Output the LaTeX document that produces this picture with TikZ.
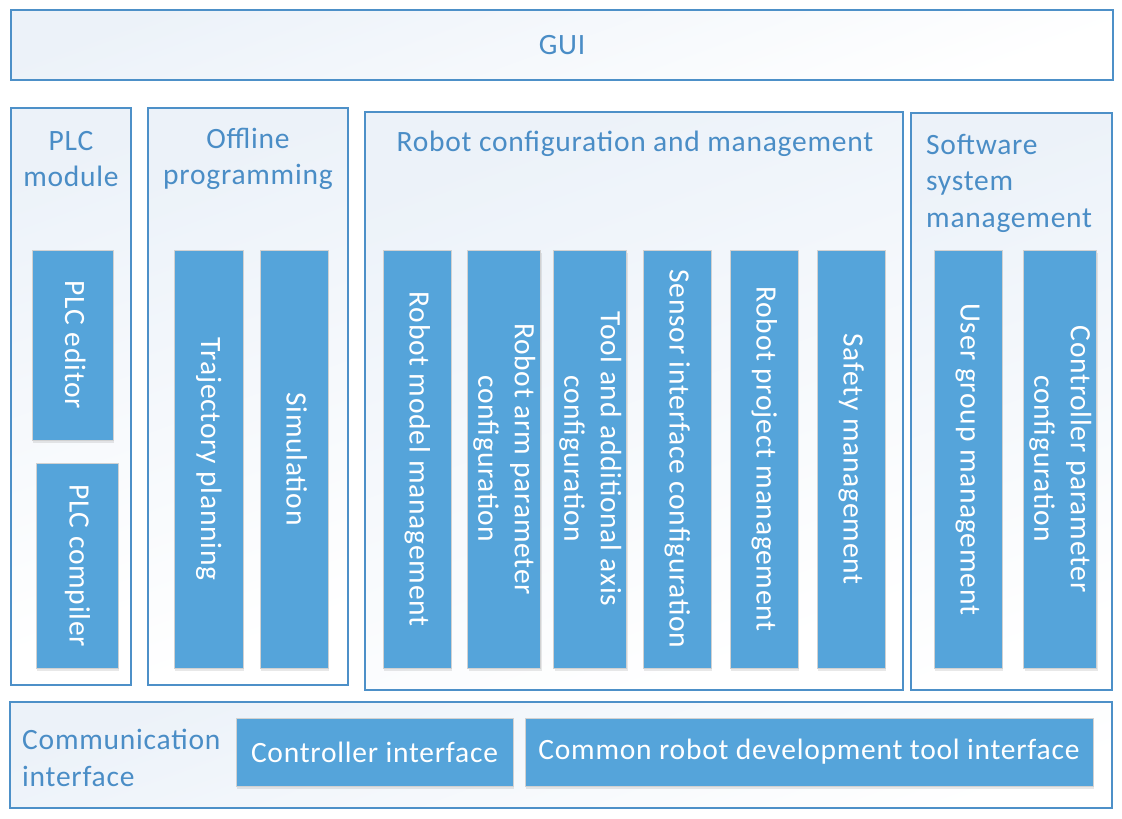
\documentclass[tikz,border=0pt]{standalone}
\usepackage{fontspec}
\setmainfont{Carlito}[LetterSpace=2.6]
\usepackage{graphicx}
\usetikzlibrary{shadows}

\definecolor{lineblue}{RGB}{77,144,200}
\definecolor{boxblue}{RGB}{85,164,218}
\definecolor{titleblue}{RGB}{74,141,198}
\definecolor{paleblue}{RGB}{236,242,249}

\newcommand{\vtext}[1]{\rotatebox[origin=c]{-90}{\begin{tabular}{@{}c@{}}#1\end{tabular}}}

\begin{document}
\begin{tikzpicture}[
		  x=1pt, y=-1pt,
		  font=\fontsize{29.5}{36.5}\selectfont,
		  outerbox/.style={
		    draw=lineblue,
		    line width=1.6pt,
		    top color=paleblue,
		    bottom color=white,
		    shading angle=20
		  },
		  innerbox/.style={
		    fill=boxblue,
		    draw=black!18,
		    line width=0.8pt,
		    text=white,
		    align=center,
		    inner sep=0pt,
		    drop shadow={shadow xshift=1pt, shadow yshift=-3pt, opacity=0.18}
		  },
		  vbox/.style={innerbox, minimum width=68pt, minimum height=418pt},
		  title/.style={text=titleblue, align=center, inner sep=0pt},
		  lefttitle/.style={title, align=left, anchor=west}
		]
		\useasboundingbox (0,0) rectangle (1122,819);

		% --- top layer ---
		\node[outerbox, minimum width=1102pt, minimum height=70pt] (gui) at (562,45) {};
		\node[title] (guititle) at (gui) {GUI};

		% --- PLC module ---
		\node[outerbox, minimum width=120pt, minimum height=577pt] (plc) at (71,396.5) {};
		\node[title] (plctitle) at (71,159) {PLC\\module};
		\node[innerbox, minimum width=81pt, minimum height=190pt] (plcedit) at (72.5,345) {\vtext{PLC editor}};
		\node[innerbox, minimum width=82pt, minimum height=205pt] (plccomp) at (77,565.5) {\vtext{PLC compiler}};

		% --- offline programming ---
		\node[outerbox, minimum width=200pt, minimum height=577pt] (offline) at (248,396.5) {};
		\node[title] (offtitle) at (248,159) {Offline\\programming};
		\node[vbox, minimum width=69pt] (traj) at (208.5,459) {\vtext{Trajectory planning}};
		\node[vbox] (sim) at (294,459) {\vtext{Simulation}};

		% --- robot configuration ---
		\node[outerbox, minimum width=538pt, minimum height=578pt] (robot) at (634,401) {};
		\node[title] (robottitle) at (635,144) {Robot configuration and management};
		\node[vbox] (model) at (417,459) {\vtext{Robot model management}};
		\node[vbox] (arm) at (504,459) {\vtext{Robot arm parameter\\configuration}};
		\node[vbox] (tool) at (590,459) {\vtext{Tool and additional axis\\configuration}};
		\node[vbox] (sensor) at (677,459) {\vtext{Sensor interface configuration}};
		\node[vbox] (project) at (764,459) {\vtext{Robot project management}};
		\node[vbox] (safety) at (851,459) {\vtext{Safety management}};

		% --- software system ---
		\node[outerbox, minimum width=201pt, minimum height=577pt] (soft) at (1011.5,401.5) {};
		\node[lefttitle] (softtitle) at (926,183) {Software\\system\\management};
		\node[vbox] (usergroup) at (968,459) {\vtext{User group management}};
		\node[vbox] (ctrlparam) at (1060,459) {\vtext{Controller parameter\\configuration}};

		% --- communication layer ---
		\node[outerbox, minimum width=1102pt, minimum height=106pt] (comm) at (561,755) {};
		\node[lefttitle] (commtitle) at (22,758) {Communication\\interface};
		\node[innerbox, minimum width=277pt, minimum height=68pt] (ctrlif) at (374.5,752) {Controller interface};
		\node[innerbox, minimum width=568pt, minimum height=68pt] (toolif) at (809,752) {Common robot development tool interface};

		\end{tikzpicture}
\end{document}
